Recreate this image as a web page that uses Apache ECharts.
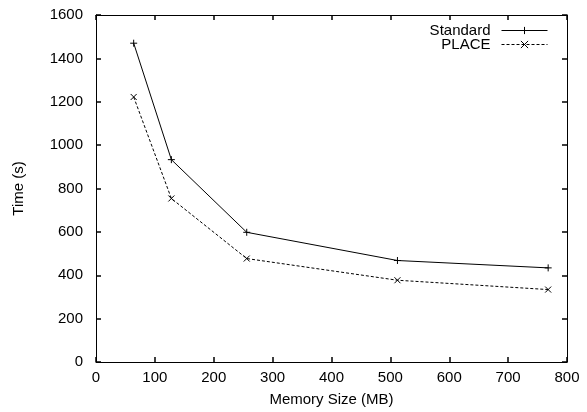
<!DOCTYPE html>
<html>
<head>
<meta charset="utf-8">
<script src="https://cdn.jsdelivr.net/npm/echarts@6/dist/echarts.min.js"></script>
<style>
  html, body { margin: 0; padding: 0; background: #fff; }
  #chart { width: 587px; height: 412px; }
</style>
</head>
<body>
<div id="chart"></div>
<script>
// memory sizes (MB)
var memSizes = [64, 128, 256, 512, 768]
// run time (s)
var standardTimes = [1470, 933, 598, 468, 434]
var placeTimes = [1222, 754, 477, 377, 334]

var plusPath = 'path://M0,5L10,5M5,0L5,10'
var crossPath = 'path://M0,0L10,10M10,0L0,10'

function pairs(xs, ys) {
  return xs.map(function (x, i) { return [x, ys[i]] })
}

var font = 'Liberation Sans, Arial, sans-serif'
var fs = 15
var axisLine = { show: true, onZero: false, lineStyle: { color: '#000', width: 1 } }
var ticks = { show: true, inside: true, length: 5, lineStyle: { color: '#000', width: 1.5 } }
var plain = function (v) { return String(v) }

var chart = echarts.init(document.getElementById('chart'))
chart.setOption({
  animation: false,
  backgroundColor: '#fff',
  grid: { left: 96, right: 20, top: 15, bottom: 49 },
  legend: {
    right: 39,
    top: 23,
    padding: 0,
    orient: 'vertical',
    align: 'right',
    itemWidth: 46,
    itemHeight: 9,
    itemGap: -1,
    lineStyle: { width: 1 },
    itemStyle: { borderWidth: 1 },
    textStyle: { fontFamily: font, fontSize: fs, color: '#000', padding: [0, 6, 0, 0] },
    data: ['Standard', 'PLACE']
  },
  xAxis: [
    {
      type: 'value', min: 0, max: 800, interval: 100,
      name: 'Memory Size (MB)', nameLocation: 'middle', nameGap: 30,
      nameTextStyle: { fontFamily: font, fontSize: fs, color: '#000' },
      axisLine: axisLine, axisTick: ticks,
      axisLabel: { fontFamily: font, fontSize: fs, color: '#000', margin: 8, formatter: plain },
      splitLine: { show: false }
    },
    {
      type: 'value', min: 0, max: 800, interval: 100, position: 'top',
      axisLine: axisLine, axisTick: ticks, axisLabel: { show: false }, splitLine: { show: false }
    }
  ],
  yAxis: [
    {
      type: 'value', min: 0, max: 1600, interval: 200,
      name: 'Time (s)', nameLocation: 'middle', nameGap: 70,
      nameTextStyle: { fontFamily: font, fontSize: fs, color: '#000' },
      axisLine: axisLine, axisTick: ticks,
      axisLabel: { fontFamily: font, fontSize: fs, color: '#000', margin: 13, formatter: plain },
      splitLine: { show: false }
    },
    {
      type: 'value', min: 0, max: 1600, interval: 200, position: 'right',
      axisLine: axisLine, axisTick: ticks, axisLabel: { show: false }, splitLine: { show: false }
    }
  ],
  series: [
    {
      name: 'Standard',
      type: 'line',
      data: pairs(memSizes, standardTimes),
      symbol: plusPath,
      symbolSize: 7,
      showAllSymbol: true,
      lineStyle: { color: '#000', width: 1 },
      itemStyle: { color: 'none', borderColor: '#000', borderWidth: 1 }
    },
    {
      name: 'PLACE',
      type: 'line',
      data: pairs(memSizes, placeTimes),
      symbol: crossPath,
      symbolSize: 6,
      showAllSymbol: true,
      lineStyle: { color: '#000', width: 1, type: [3, 2] },
      itemStyle: { color: 'none', borderColor: '#000', borderWidth: 1 }
    }
  ]
})
</script>
</body>
</html>
